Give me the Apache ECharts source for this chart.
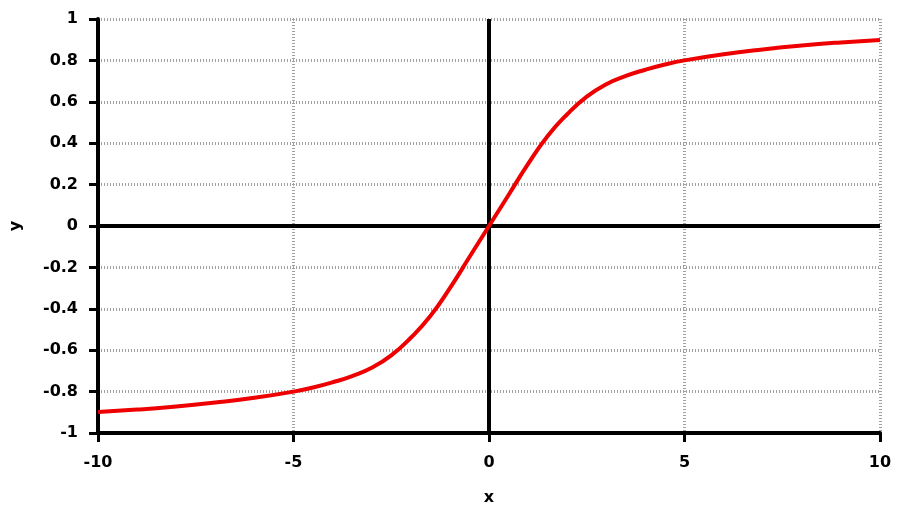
<!DOCTYPE html>
<html>
<head>
<meta charset="utf-8">
<script src="https://cdn.jsdelivr.net/npm/echarts@6/dist/echarts.min.js"></script>
<style>
html,body{margin:0;padding:0;background:#fff;}
#chart{width:910px;height:512px;}
</style>
</head>
<body>
<div id="chart"></div>
<script>
// Values
var xValues = [-10, -9, -8, -7, -6, -5, -4.5, -4, -3.5, -3, -2.5, -2, -1.5, -1, -0.5, 0, 0.5, 1, 1.5, 2, 2.5, 3, 3.5, 4, 4.5, 5, 6, 7, 8, 9, 10];
var yValues = [-0.899, -0.887, -0.872, -0.853, -0.83, -0.80, -0.78, -0.755, -0.725, -0.685, -0.625, -0.54, -0.435, -0.30, -0.15, 0, 0.15, 0.30, 0.435, 0.54, 0.625, 0.685, 0.725, 0.755, 0.78, 0.80, 0.83, 0.853, 0.872, 0.887, 0.899];
var xTicks = [-10, -5, 0, 5, 10];
var yTicks = [-1, -0.8, -0.6, -0.4, -0.2, 0, 0.2, 0.4, 0.6, 0.8, 1];

var points = xValues.map(function (x, i) { return [x, yValues[i]]; });
var font = 'DejaVu Sans';

var chart = echarts.init(document.getElementById('chart'), null, {renderer: 'canvas'});
chart.setOption({
  animation: false,
  backgroundColor: '#fff',
  grid: {left: 96, right: 30, top: 19, bottom: 79, containLabel: false},
  xAxis: {
    type: 'value',
    min: xTicks[0], max: xTicks[xTicks.length - 1], interval: 5,
    name: 'x', nameLocation: 'middle', nameGap: 57,
    nameTextStyle: {fontFamily: font, fontWeight: 'bold', fontSize: 16, color: '#000'},
    axisLine: {show: true, onZero: false, lineStyle: {color: '#000', width: 4}},
    axisTick: {show: true, length: 9, lineStyle: {color: '#000', width: 3}},
    axisLabel: {margin: 22, fontFamily: font, fontWeight: 'bold', fontSize: 16, color: '#000'},
    splitLine: {show: true, lineStyle: {color: '#a0a0a0', width: 3, type: [1, 2]}}
  },
  yAxis: {
    type: 'value',
    min: yTicks[0], max: yTicks[yTicks.length - 1], interval: 0.2,
    name: 'y', nameLocation: 'middle', nameGap: 74, nameRotate: 90,
    nameTextStyle: {fontFamily: font, fontWeight: 'bold', fontSize: 16, color: '#000'},
    axisLine: {show: true, onZero: false, lineStyle: {color: '#000', width: 4}},
    axisTick: {show: true, length: 9, lineStyle: {color: '#000', width: 3}},
    axisLabel: {margin: 20, fontFamily: font, fontWeight: 'bold', fontSize: 16, color: '#000',
      formatter: function (v) { return String(parseFloat(v.toFixed(1))); }},
    splitLine: {show: true, lineStyle: {color: '#a0a0a0', width: 3, type: [1, 2]}}
  },
  series: [{
    type: 'line',
    data: points,
    smooth: true,
    showSymbol: false,
    symbol: 'none',
    lineStyle: {color: '#ee0000', width: 4},
    z: 5,
    markLine: {
      silent: true,
      symbol: ['none', 'none'],
      label: {show: false},
      lineStyle: {color: '#000', width: 4, type: 'solid'},
      data: [{xAxis: 0}, {yAxis: 0}],
      z: 3
    }
  }]
});
</script>
</body>
</html>
